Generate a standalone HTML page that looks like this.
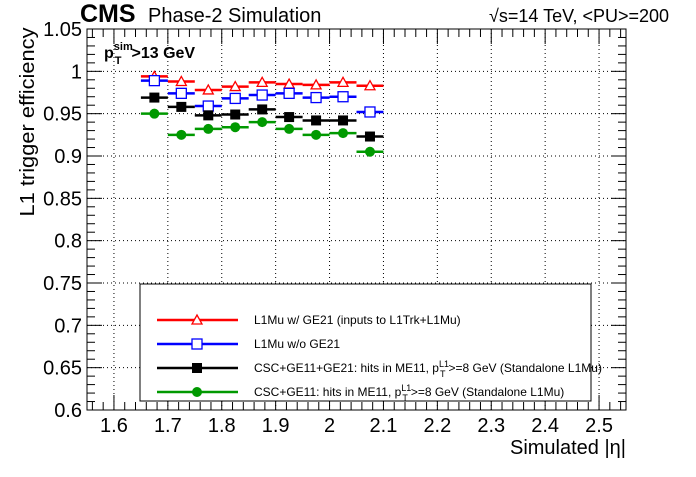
<!DOCTYPE html>
<html><head><meta charset="utf-8"><style>
body{margin:0;background:#fff;}
svg text{font-family:"Liberation Sans",sans-serif;}
</style></head><body>
<svg id="c" width="696" height="472" xmlns="http://www.w3.org/2000/svg">
<rect width="696" height="472" fill="#fff"/>
<g id="grid"></g><g id="axes"></g><g id="series"></g>
<text x="80" y="22" font-size="25" font-weight="bold">CMS</text>
<text x="148" y="22" font-size="20">Phase-2 Simulation</text>
<text x="489" y="22" font-size="18">√s=14 TeV, &lt;PU&gt;=200</text>
<text x="104" y="58" font-size="16" font-weight="bold">p<tspan font-size="11" dy="-8">sim</tspan><tspan font-size="11" dx="-18" dy="14">T</tspan><tspan dy="-6" dx="10">&gt;13 GeV</tspan></text>
<text transform="translate(34,122) rotate(-90)" text-anchor="middle" font-size="20" textLength="189" lengthAdjust="spacingAndGlyphs">L1 trigger efficiency</text>
<text x="626" y="454" text-anchor="end" font-size="20">Simulated |η|</text>
<g id="legend"></g>
</svg>
<script>
const binLow=[1.65,1.70,1.75,1.80,1.85,1.90,1.95,2.00,2.05];
const binHigh=[1.70,1.75,1.80,1.85,1.90,1.95,2.00,2.05,2.10];
const redVals=[0.994,0.988,0.978,0.982,0.987,0.985,0.984,0.987,0.983];
const blueVals=[0.989,0.974,0.959,0.968,0.972,0.974,0.969,0.970,0.952];
const blackVals=[0.969,0.958,0.948,0.949,0.955,0.946,0.942,0.942,0.923];
const greenVals=[0.950,0.925,0.932,0.934,0.940,0.932,0.925,0.927,0.905];
const xTicks=[1.6,1.7,1.8,1.9,2.0,2.1,2.2,2.3,2.4,2.5];
const xTickLabels=["1.6","1.7","1.8","1.9","2","2.1","2.2","2.3","2.4","2.5"];
const yTicks=[0.6,0.65,0.7,0.75,0.8,0.85,0.9,0.95,1.0,1.05];
const yTickLabels=["0.6","0.65","0.7","0.75","0.8","0.85","0.9","0.95","1","1.05"];
const legendLabels=["L1Mu w/ GE21 (inputs to L1Trk+L1Mu)","L1Mu w/o GE21","CSC+GE11+GE21: hits in ME11, p_T^L1>=8 GeV (Standalone L1Mu)","CSC+GE11: hits in ME11, p_T^L1>=8 GeV (Standalone L1Mu)"];
const X0=87,X1=626,Y0=410,Y1=29,xmin=1.55,xmax=2.55,ymin=0.6,ymax=1.05;
const NS="http://www.w3.org/2000/svg";
function sx(v){return X0+(v-xmin)/(xmax-xmin)*(X1-X0);}
function sy(v){return Y0-(v-ymin)/(ymax-ymin)*(Y0-Y1);}
function mk(tag,attrs,parent){const e=document.createElementNS(NS,tag);for(const k in attrs)e.setAttribute(k,attrs[k]);parent.appendChild(e);return e;}
const grid=document.getElementById('grid'),axes=document.getElementById('axes'),ser=document.getElementById('series'),leg=document.getElementById('legend');
xTicks.forEach((t,i)=>{const l=mk('line',{x1:sx(t),x2:sx(t),y1:Y0,y2:Y1,stroke:'#000','stroke-dasharray':'1,3','stroke-width':1},grid);

const tx=mk('text',{x:sx(t),y:432,'text-anchor':'middle','font-size':20},axes);tx.textContent=xTickLabels[i];
});
yTicks.forEach((t,i)=>{if(i>0&&i<yTicks.length-1){const l=mk('line',{x1:X0,x2:X1,y1:sy(t),y2:sy(t),stroke:'#000','stroke-dasharray':'1,3','stroke-width':1},grid);
}
const tx=mk('text',{x:82,y:sy(t)+7,'text-anchor':'end','font-size':20},axes);tx.textContent=yTickLabels[i];
});
const fr=mk('rect',{x:X0,y:Y1,width:X1-X0,height:Y0-Y1,fill:'none',stroke:'#000','stroke-width':1},axes);

for(let k=0;k<=50;k++){const v=1.56+k*0.02;if(v>2.55)break;const big=(k%5===2);const len=big?15:8;const x=sx(v);
mk('line',{x1:x,x2:x,y1:Y0,y2:Y0-len,stroke:'#000'},axes);mk('line',{x1:x,x2:x,y1:Y1,y2:Y1+len,stroke:'#000'},axes);}
for(let k=0;k<=45;k++){const v=0.6+k*0.01;const big=(k%5===0);const len=big?15:8;const y=sy(v);
mk('line',{x1:X0,x2:X0+len,y1:y,y2:y,stroke:'#000'},axes);mk('line',{x1:X1,x2:X1-len,y1:y,y2:y,stroke:'#000'},axes);}
function marker(type,color,x,y,p){
if(type==='tri'){return mk('polygon',{points:`${x},${y-5} ${x-5},${y+4} ${x+5},${y+4}`,fill:'#fff',stroke:color,'stroke-width':1.3},p);}
if(type==='osq'){return mk('rect',{x:x-5,y:y-5,width:10,height:10,fill:'#fff',stroke:color,'stroke-width':1.3},p);}
if(type==='sq'){return mk('rect',{x:x-5,y:y-5,width:10,height:10,fill:color},p);}
return mk('circle',{cx:x,cy:y,r:5,fill:color},p);}
const seriesDefs=[['red',redVals,'#ff0000','tri'],['blue',blueVals,'#0000ff','osq'],['black',blackVals,'#000','sq'],['green',greenVals,'#009900','dot']];
seriesDefs.forEach(([nm,vals,col,mt])=>{const g=mk('g',{},ser);
vals.forEach((v,i)=>{const y=sy(v);const l=mk('line',{x1:sx(binLow[i]),x2:sx(binHigh[i]),y1:y,y2:y,stroke:col,'stroke-width':2.5},g);

const m=marker(mt,col,sx((binLow[i]+binHigh[i])/2),y,g);});});
mk('rect',{x:140,y:284,width:451,height:117,fill:'#fff',stroke:'#000','stroke-width':1},leg);
seriesDefs.forEach(([nm,vals,col,mt],i)=>{const y=320+i*24;const g=mk('g',{},leg);

mk('line',{x1:157,x2:238,y1:y,y2:y,stroke:col,'stroke-width':2.5},g);marker(mt,col,197,y,g);
const t=mk('text',{x:254,y:y+4,'font-size':12},g);const lab=legendLabels[i];
if(lab.indexOf('p_T^L1')>=0){const [a,b]=lab.split('p_T^L1');t.appendChild(document.createTextNode(a+'p'));
const s1=mk('tspan',{dy:-5,'font-size':9},t);s1.textContent='L1';const s2=mk('tspan',{dx:-9,dy:10,'font-size':9},t);s2.textContent='T';
const s3=mk('tspan',{dx:3,dy:-5},t);s3.textContent=b;}else t.textContent=lab;});
</script>
</body></html>
